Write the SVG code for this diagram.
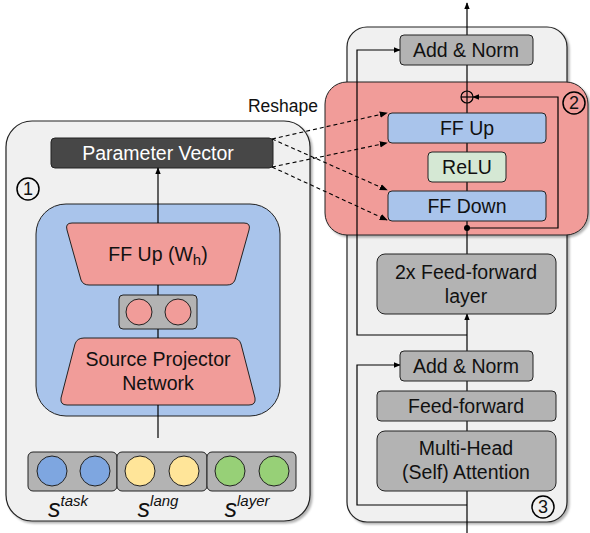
<svg xmlns="http://www.w3.org/2000/svg" width="590" height="533" viewBox="0 0 590 533">
<defs>
<marker id="ah" viewBox="0 0 10 10" refX="9" refY="5" markerWidth="7" markerHeight="7" orient="auto-start-reverse" markerUnits="userSpaceOnUse"><path d="M0,1 L10,5 L0,9 z" fill="#000"/></marker>
<marker id="ahd" viewBox="0 0 10 10" refX="9" refY="5" markerWidth="8" markerHeight="8" orient="auto" markerUnits="userSpaceOnUse"><path d="M0,1 L10,5 L0,9 z" fill="#000"/></marker>
<filter id="sh" x="-10%" y="-10%" width="120%" height="120%"><feDropShadow dx="2" dy="2" stdDeviation="1.2" flood-color="#000" flood-opacity="0.3"/></filter>
</defs>
<style>
text{font-family:"Liberation Sans",Arial,sans-serif;font-size:19.5px;fill:#111;text-anchor:middle;dominant-baseline:central}
.panel{fill:#f0f0f0;stroke:#222;stroke-width:1.2}
.gray{fill:#b3b3b3;stroke:#222;stroke-width:1}
.blue{fill:#a9c4eb;stroke:#222;stroke-width:1}
.pink{fill:#f19c99;stroke:#222;stroke-width:1}
.line{fill:none;stroke:#000;stroke-width:1.2}
.dash{fill:none;stroke:#000;stroke-width:1.1;stroke-dasharray:4,3}
.num{fill:none;stroke:#000;stroke-width:1.5}
.nt{font-size:18px}
.it{font-style:italic}
</style>

<!-- Left panel -->
<g id="left-panel">
<rect class="panel" x="6" y="121" width="304" height="400" rx="26" filter="url(#sh)"/>
</g>
<g id="param-vector">
<rect x="51" y="138" width="222" height="30" rx="4" fill="#474747" stroke="#222" stroke-width="1"/>
<text x="158" y="153" style="fill:#fff">Parameter Vector</text>
</g>
<g id="num1">
<circle class="num" cx="28" cy="189" r="11"/>
<text class="nt" x="28" y="189">1</text>
</g>
<g id="hypernet">
<rect class="blue" x="36" y="204" width="244" height="212" rx="30"/>
</g>
<g id="ff-up-wh">
<path class="pink" d="M72,223 L244,223 Q251,223 249,230 L235,280 Q233,285 227,285 L89,285 Q83,285 81,280 L67,230 Q65,223 72,223 Z"/>
<text x="158" y="254">FF Up (W<tspan dy="5" font-size="15">h</tspan><tspan dy="-5">)</tspan></text>
</g>
<g id="hidden">
<rect class="gray" x="119" y="295" width="78" height="34" rx="4"/>
<circle class="pink" cx="139" cy="312" r="13"/>
<circle class="pink" cx="178" cy="312" r="13"/>
</g>
<g id="source-projector">
<path class="pink" d="M84,338 L233,338 Q239,338 241,344 L255,398 Q256,405 249,405 L67,405 Q60,405 61,398 L75,344 Q77,338 84,338 Z"/>
<text x="158" y="359">Source Projector</text>
<text x="158" y="383">Network</text>
</g>
<g id="sources">
<rect class="gray" x="28" y="452" width="89" height="39" rx="5"/>
<rect class="gray" x="117" y="452" width="90" height="39" rx="5"/>
<rect class="gray" x="207" y="452" width="89" height="39" rx="5"/>
<circle cx="52" cy="471" r="15" fill="#7ea6e0" stroke="#222"/>
<circle cx="95" cy="471" r="15" fill="#7ea6e0" stroke="#222"/>
<circle cx="140" cy="471" r="15" fill="#ffe599" stroke="#222"/>
<circle cx="184" cy="471" r="15" fill="#ffe599" stroke="#222"/>
<circle cx="230" cy="471" r="15" fill="#97d077" stroke="#222"/>
<circle cx="274" cy="471" r="15" fill="#97d077" stroke="#222"/>
<text class="it" x="68" y="508" style="font-size:25px">s<tspan dy="-8" font-size="15">task</tspan></text>
<text class="it" x="158" y="508" style="font-size:25px">s<tspan dy="-8" font-size="15">lang</tspan></text>
<text class="it" x="247" y="508" style="font-size:25px">s<tspan dy="-8" font-size="15">layer</tspan></text>
</g>

<!-- Right panel -->
<g id="right-panel">
<rect class="panel" x="347" y="27" width="220" height="495" rx="20" filter="url(#sh)"/>
</g>
<g id="adapter">
<rect class="pink" x="325" y="82" width="263" height="153" rx="22" filter="url(#sh)"/>
</g>
<g id="num2">
<circle class="num" cx="574" cy="103" r="11"/>
<text class="nt" x="574" y="103">2</text>
</g>
<g id="num3">
<circle class="num" cx="543" cy="507" r="11"/>
<text class="nt" x="543" y="507">3</text>
</g>

<g id="connectors">
<line class="line" x1="158" y1="223" x2="158" y2="168" marker-end="url(#ah)"/>
<line class="line" x1="158" y1="295" x2="158" y2="285"/>
<line class="line" x1="158" y1="338" x2="158" y2="329"/>
<line class="line" x1="158" y1="438" x2="158" y2="405"/>
<line class="line" x1="467" y1="533" x2="467" y2="491"/>
<line class="line" x1="467" y1="431" x2="467" y2="421"/>
<line class="line" x1="467" y1="391" x2="467" y2="381"/>
<line class="line" x1="467" y1="351" x2="467" y2="314" marker-end="url(#ah)"/>
<line class="line" x1="467" y1="254" x2="467" y2="221"/>
<line class="line" x1="467" y1="191" x2="467" y2="182"/>
<line class="line" x1="467" y1="152" x2="467" y2="143"/>
<line class="line" x1="467" y1="113" x2="467" y2="103"/>
<line class="line" x1="467" y1="91" x2="467" y2="65"/>
<line class="line" x1="467" y1="35" x2="467" y2="3" marker-end="url(#ah)"/>
<polyline class="line" points="467,505 357,505 357,365 400,365" marker-end="url(#ah)"/>
<polyline class="line" points="467,335 357,335 357,50 400,50" marker-end="url(#ah)"/>
<polyline class="line" points="467,228 558,228 558,97 473,97" marker-end="url(#ah)"/>
<circle cx="467" cy="228" r="3" fill="#000"/>
<line class="dash" x1="272" y1="139" x2="387" y2="113" marker-end="url(#ahd)"/>
<line class="dash" x1="272" y1="139" x2="387" y2="190" marker-end="url(#ahd)"/>
<line class="dash" x1="272" y1="167" x2="387" y2="143" marker-end="url(#ahd)"/>
<line class="dash" x1="272" y1="167" x2="387" y2="220" marker-end="url(#ahd)"/>
</g>

<g id="plus">
<circle cx="467" cy="97" r="6" fill="none" stroke="#000" stroke-width="1.2"/>
<line class="line" x1="461" y1="97" x2="473" y2="97"/>
<line class="line" x1="467" y1="91" x2="467" y2="103"/>
</g>
<text x="283" y="106" style="font-size:17.5px">Reshape</text>

<g id="add-norm-top">
<rect class="gray" x="400" y="35" width="133" height="30" rx="4"/>
<text x="466" y="50">Add &amp; Norm</text>
</g>
<g id="ff-up">
<rect class="blue" x="388" y="113" width="158" height="30" rx="4"/>
<text x="467" y="128">FF Up</text>
</g>
<g id="relu">
<rect x="428" y="152" width="78" height="30" rx="4" fill="#d5e8d4" stroke="#222"/>
<text x="467" y="167">ReLU</text>
</g>
<g id="ff-down">
<rect class="blue" x="388" y="191" width="158" height="30" rx="4"/>
<text x="467" y="206">FF Down</text>
</g>
<g id="ff-layer">
<rect class="gray" x="377" y="254" width="179" height="60" rx="8"/>
<text x="466" y="272">2x Feed-forward</text>
<text x="466" y="296">layer</text>
</g>
<g id="add-norm-bottom">
<rect class="gray" x="400" y="351" width="133" height="30" rx="4"/>
<text x="466" y="366">Add &amp; Norm</text>
</g>
<g id="feed-forward">
<rect class="gray" x="377" y="391" width="179" height="30" rx="4"/>
<text x="466" y="406">Feed-forward</text>
</g>
<g id="mha">
<rect class="gray" x="377" y="431" width="179" height="60" rx="8"/>
<text x="466" y="448">Multi-Head</text>
<text x="466" y="472">(Self) Attention</text>
</g>
</svg>
